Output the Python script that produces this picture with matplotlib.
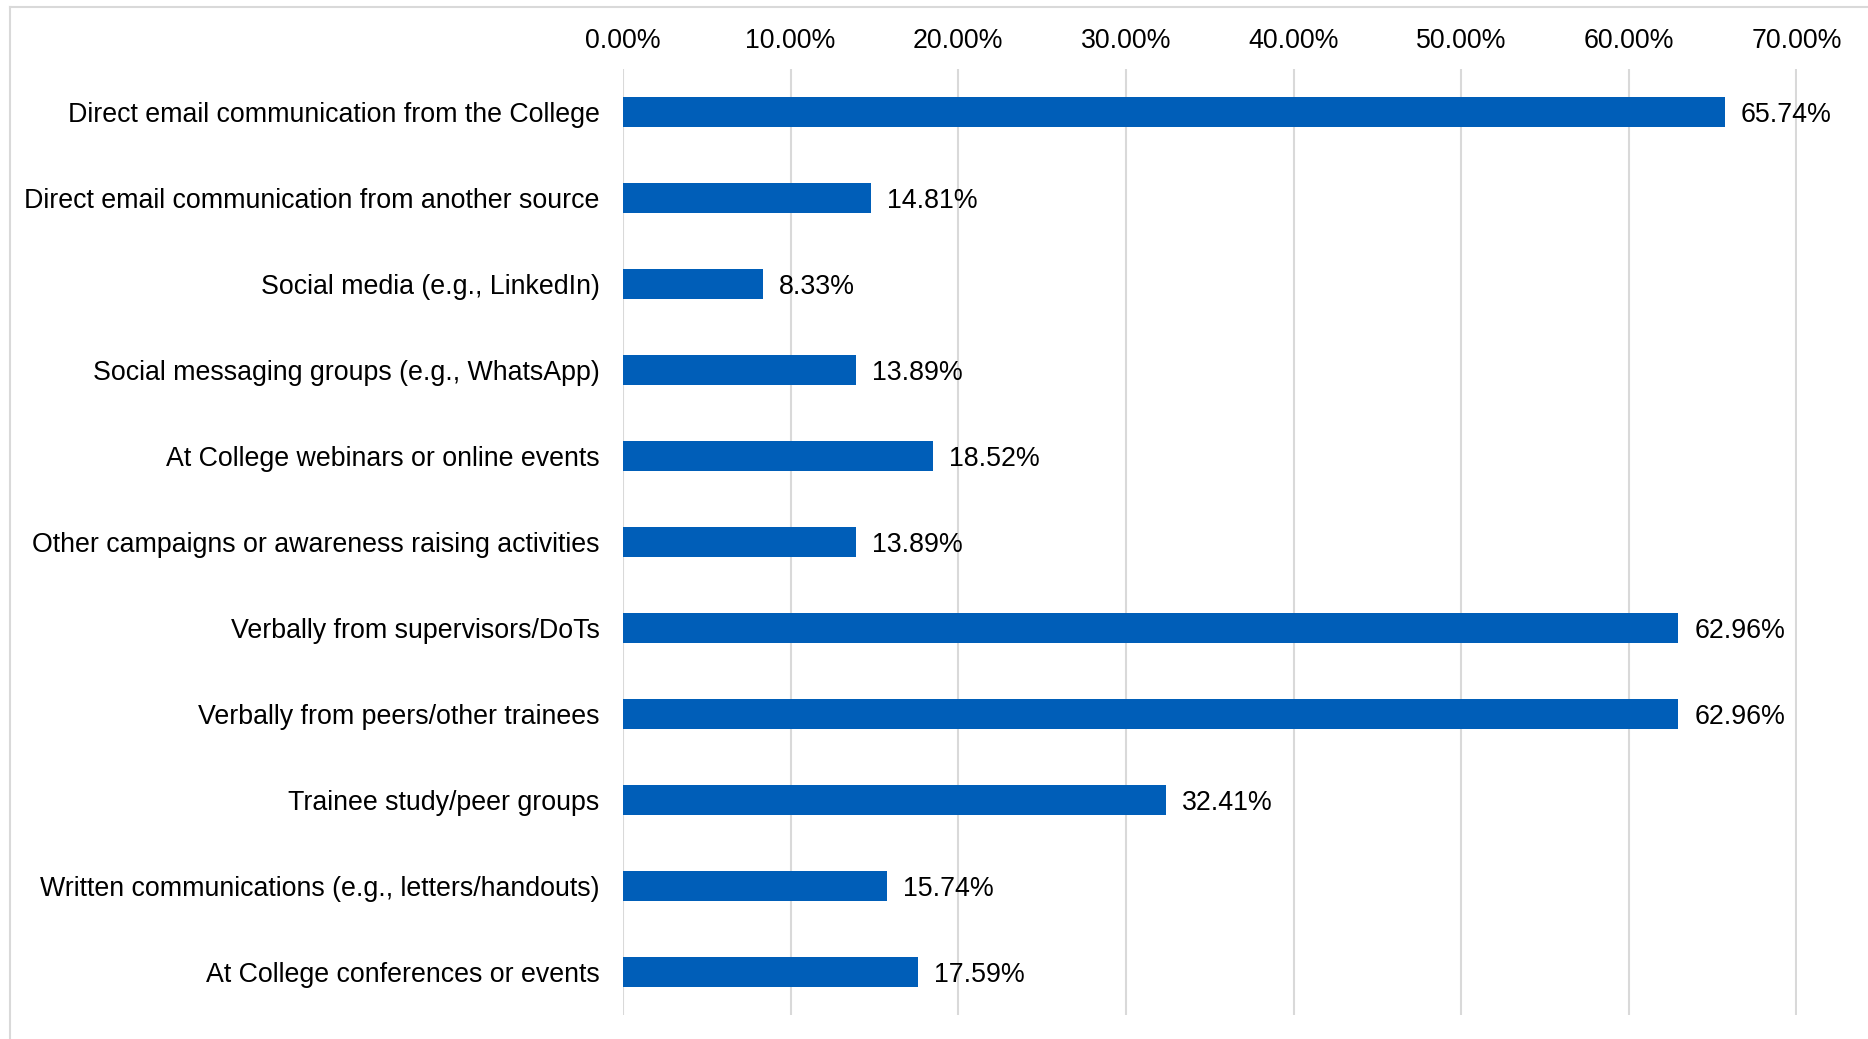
import matplotlib
matplotlib.use("Agg")
import matplotlib.pyplot as plt
from matplotlib.lines import Line2D

plt.rcParams['font.family'] = ['Liberation Sans', 'DejaVu Sans']

categories = [
    "Direct email communication from the College",
    "Direct email communication from another source",
    "Social media (e.g., LinkedIn)",
    "Social messaging groups (e.g., WhatsApp)",
    "At College webinars or online events",
    "Other campaigns or awareness raising activities",
    "Verbally from supervisors/DoTs",
    "Verbally from peers/other trainees",
    "Trainee study/peer groups",
    "Written communications (e.g., letters/handouts)",
    "At College conferences or events",
]
values = [65.74, 14.81, 8.33, 13.89, 18.52, 13.89, 62.96, 62.96, 32.41, 15.74, 17.59]
tick_values = [0, 10, 20, 30, 40, 50, 60, 70]
tick_labels = [f"{v:.2f}%" for v in tick_values]

W, H = 1868, 1039
FS = 19.3
fig = plt.figure(figsize=(W / 100, H / 100), dpi=100)
ax = fig.add_axes([623 / W, 1 - 1015 / H, (1796.5 - 623) / W, (1015 - 69) / H])

bar_color = "#005EB8"
grid_color = "#d9d9d9"

ypos = list(range(len(categories)))
ax.barh(ypos, values, height=0.34, color=bar_color, zorder=3)

for y, v in zip(ypos, values):
    ax.text(v + 0.95, y, f"{v:.2f}%", va="center_baseline", ha="left", fontsize=FS, color="black")

ax.set_xlim(0, 70)
ax.set_ylim(len(categories) - 0.5, -0.5)
ax.set_xticks(tick_values)
ax.set_xticklabels(tick_labels, fontsize=FS)
ax.xaxis.tick_top()
ax.tick_params(axis="x", length=0, pad=11)
ax.set_yticks(ypos)
ax.set_yticklabels(categories, fontsize=FS, va="center_baseline")
ax.tick_params(axis="y", length=0, pad=17)

ax.grid(axis="x", color=grid_color, linewidth=1.5, zorder=0)
ax.set_axisbelow(True)
for s in ax.spines.values():
    s.set_visible(False)

# outer frame (top and left edges)
fig.add_artist(Line2D([9.5 / W, 1.0], [1 - 7 / H, 1 - 7 / H], transform=fig.transFigure,
                      color=grid_color, linewidth=1.5))
fig.add_artist(Line2D([9.5 / W, 9.5 / W], [0.0, 1 - 7 / H], transform=fig.transFigure,
                      color=grid_color, linewidth=1.5))

fig.savefig("out.png", dpi=100, facecolor="white")
